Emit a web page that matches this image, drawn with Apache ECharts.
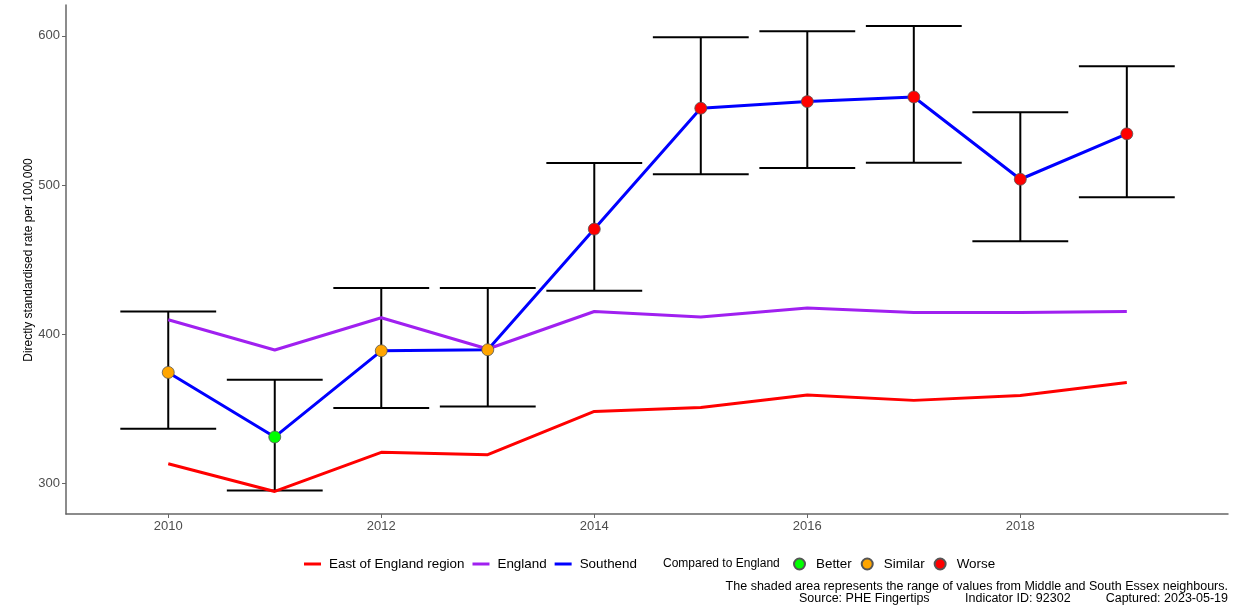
<!DOCTYPE html>
<html><head><meta charset="utf-8">
<script src="https://cdn.jsdelivr.net/npm/echarts@6/dist/echarts.min.js"></script>
<style>html,body{margin:0;padding:0;background:#fff}#c{width:1241px;height:605px}</style>
</head><body><div id="c"></div>
<script>
const years = [2010, 2011, 2012, 2013, 2014, 2015, 2016, 2017, 2018, 2019];
const southend = [374.5, 331.3, 389.0, 389.7, 470.5, 551.5, 555.9, 559.0, 503.9, 534.3];
const southendUpper = [415.3, 369.6, 431.0, 431.0, 514.7, 599.0, 603.0, 606.6, 548.8, 579.6];
const southendLower = [336.8, 295.5, 350.7, 351.7, 429.2, 507.3, 511.5, 514.9, 462.4, 491.9];
const england = [409.8, 389.5, 411.1, 390.2, 415.3, 411.6, 417.6, 414.7, 414.7, 415.3];
const eastOfEngland = [313.4, 294.8, 321.0, 319.4, 348.4, 351.1, 359.4, 355.8, 359.1, 367.8];
const comparison = ['Similar', 'Better', 'Similar', 'Similar', 'Worse', 'Worse', 'Worse', 'Worse', 'Worse', 'Worse'];
const xTicks = [2010, 2012, 2014, 2016, 2018];
const yTicks = [300, 400, 500, 600];

const compColors = { Better: '#00FF00', Similar: '#FFA500', Worse: '#FF0000' };
const pair = arr => years.map((y, i) => [y, arr[i]]);
const errData = years.map((y, i) => [y, southendLower[i], southendUpper[i]]);

const chart = echarts.init(document.getElementById('c'));
const font = 'Liberation Sans, Arial, sans-serif';

const pointSeries = ['Better', 'Similar', 'Worse'].map(name => ({
  name, type: 'scatter', symbol: 'circle', symbolSize: 12, z: 5,
  itemStyle: { color: compColors[name], borderColor: '#555', borderWidth: 0.8, opacity: 1 },
  data: years.map((y, i) => comparison[i] === name ? [y, southend[i]] : null).filter(d => d)
}));

const legendText = { color: '#000', fontSize: 13.4, fontFamily: font, padding: [0, 0, 0, 3] };

chart.setOption({
  animation: false,
  textStyle: { fontFamily: font },
  grid: { left: 66, right: 13, top: 5, bottom: 91, containLabel: false },
  xAxis: {
    type: 'value', min: 2009.04, max: 2019.95,
    axisLine: { show: true, lineStyle: { color: '#666', width: 1.5 } },
    axisTick: { show: true, customValues: xTicks, length: 4, lineStyle: { color: '#666' } },
    axisLabel: { customValues: xTicks, color: '#4d4d4d', fontSize: 13, margin: 6, formatter: v => String(v) },
    splitLine: { show: false }
  },
  yAxis: {
    type: 'value', min: 279.7, max: 620.6,
    axisLine: { show: true, lineStyle: { color: '#666', width: 1.5 } },
    axisTick: { show: true, customValues: yTicks, length: 4, lineStyle: { color: '#666' } },
    axisLabel: { customValues: yTicks, color: '#4d4d4d', fontSize: 13, margin: 6 },
    splitLine: { show: false }
  },
  legend: [{
    left: 304, top: 557.5, padding: 0, itemWidth: 17, itemHeight: 3, itemGap: 8, icon: 'rect',
    textStyle: legendText,
    data: ['East of England region', 'England', 'Southend']
  }, {
    left: 793, top: 557.5, padding: 0, itemWidth: 17, itemHeight: 11, itemGap: 9, icon: 'circle',
    textStyle: legendText,
    data: ['Better', 'Similar', 'Worse']
  }],
  graphic: [
    { type: 'text', x: 29, y: 260, rotation: Math.PI / 2, style: { text: 'Directly standardised rate per 100,000', fill: '#000', font: '12px ' + font, align: 'center', verticalAlign: 'middle' } },
    { type: 'text', x: 663, y: 563.5, style: { text: 'Compared to England', fill: '#000', font: '12px ' + font, verticalAlign: 'middle' } },
    { type: 'text', x: 1228, y: 587, style: { text: 'The shaded area represents the range of values from Middle and South Essex neighbours.', fill: '#000', font: '12.5px ' + font, align: 'right', verticalAlign: 'middle' } },
    { type: 'text', x: 799, y: 599, style: { text: 'Source: PHE Fingertips', fill: '#000', font: '12.5px ' + font, verticalAlign: 'middle' } },
    { type: 'text', x: 965, y: 599, style: { text: 'Indicator ID: 92302', fill: '#000', font: '12.5px ' + font, verticalAlign: 'middle' } },
    { type: 'text', x: 1228, y: 599, style: { text: 'Captured: 2023-05-19', fill: '#000', font: '12.5px ' + font, align: 'right', verticalAlign: 'middle' } }
  ],
  series: [
    {
      name: 'errorbars', type: 'custom', z: 2,
      renderItem: (params, api) => {
        const x = api.value(0);
        const lo = api.coord([x, api.value(1)]);
        const hi = api.coord([x, api.value(2)]);
        const l = api.coord([x - 0.45, api.value(1)]);
        const r = api.coord([x + 0.45, api.value(1)]);
        const half = (r[0] - l[0]) / 2;
        const st = { stroke: '#000', lineWidth: 2 };
        return { type: 'group', children: [
          { type: 'line', shape: { x1: lo[0], y1: lo[1], x2: hi[0], y2: hi[1] }, style: st },
          { type: 'line', shape: { x1: lo[0] - half, y1: lo[1], x2: lo[0] + half, y2: lo[1] }, style: st },
          { type: 'line', shape: { x1: hi[0] - half, y1: hi[1], x2: hi[0] + half, y2: hi[1] }, style: st }
        ]};
      },
      encode: { x: 0, y: [1, 2] },
      data: errData
    },
    { name: 'East of England region', type: 'line', data: pair(eastOfEngland), symbol: 'none', z: 3,
      lineStyle: { color: '#FF0000', width: 3 }, itemStyle: { color: '#FF0000' } },
    { name: 'England', type: 'line', data: pair(england), symbol: 'none', z: 3,
      lineStyle: { color: '#A020F0', width: 3 }, itemStyle: { color: '#A020F0' } },
    { name: 'Southend', type: 'line', data: pair(southend), symbol: 'none', z: 4,
      lineStyle: { color: '#0000FF', width: 3 }, itemStyle: { color: '#0000FF' } },
    ...pointSeries
  ]
});
</script></body></html>
